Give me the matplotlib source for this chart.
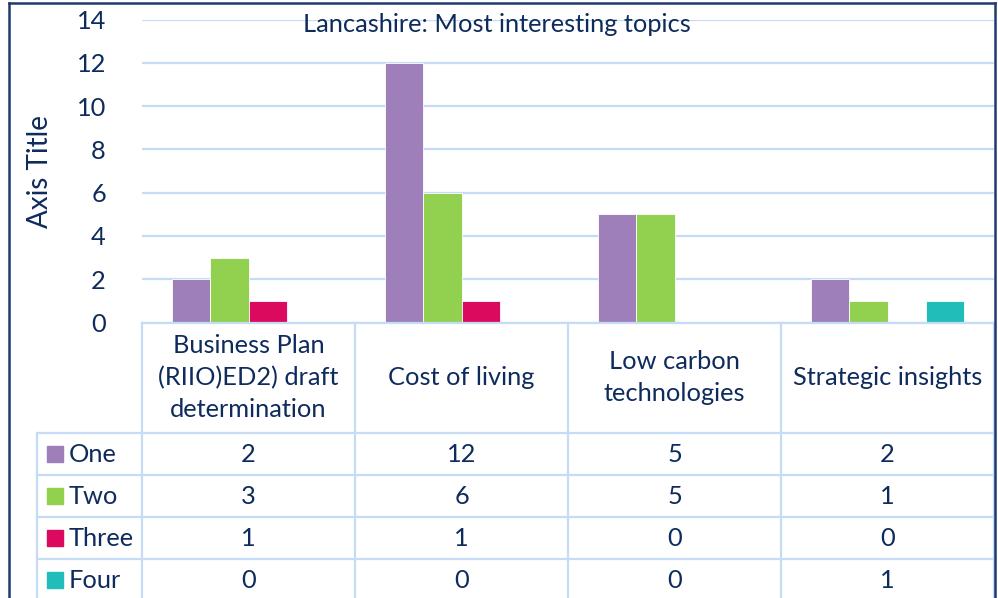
import matplotlib
matplotlib.use("Agg")
import matplotlib.pyplot as plt
import numpy as np
from matplotlib.lines import Line2D
from matplotlib.patches import Rectangle

categories = ["Business Plan\n(RIIO)ED2) draft\ndetermination", "Cost of living",
              "Low carbon\ntechnologies", "Strategic insights"]
series_names = ["One", "Two", "Three", "Four"]
one = [2, 12, 5, 2]
two = [3, 6, 5, 1]
three = [1, 1, 0, 0]
four = [0, 0, 0, 1]
series_values = [one, two, three, four]
colors = ["#9e7fb9", "#92d050", "#dc0a5f", "#20bdb9"]
yticks = [0, 2, 4, 6, 8, 10, 12, 14]
title = "Lancashire: Most interesting topics"

plt.rcParams['font.family'] = ['Lato', 'DejaVu Sans']
TXT = "#0e2b5c"
GRID = "#c6dbf6"
FS = 18.3

W, H = 998, 598
fig = plt.figure(figsize=(W / 100, H / 100), dpi=100)

def fx(px):
    return px / W

def fy(py):
    return 1 - py / H

left_px, right_px = 142, 994
top_px, bot_px = 19.5, 322.5
ax = fig.add_axes([fx(left_px), fy(bot_px), fx(right_px - left_px), (bot_px - top_px) / H])
ax.set_xlim(-0.5, 3.5)
ax.set_ylim(0, 14)

n = len(series_names)
bw = 0.18
x = np.arange(len(categories))
for i, (name, vals, c) in enumerate(zip(series_names, series_values, colors)):
    ax.bar(x + (i - (n - 1) / 2) * bw, vals, width=bw, color=c, zorder=3,
           edgecolor="white", linewidth=0.6)

ax.set_yticks(yticks)
ax.tick_params(axis='y', length=0, pad=26, labelsize=FS, labelcolor=TXT)
ax.tick_params(axis='x', length=0, labelbottom=False)
ax.grid(axis='y', color=GRID, linewidth=1.6, zorder=0)
for s in ax.spines.values():
    s.set_visible(False)
ax.set_ylabel("Axis Title", fontsize=20, color=TXT, labelpad=17)

fig.text(0.498, fy(24.5), title, ha='center', va='center', fontsize=FS, color=TXT)

# data table
unit = (bot_px - top_px) / 14.0  # pixels per y-unit
def ypx(py):
    return -(py - bot_px) / unit

header_bot = 433
row_h = 42
rows_y = [header_bot + k * row_h for k in range(5)]
leg_left = -0.5 - (left_px - 37) / ((right_px - left_px) / 4)

lk = dict(color=GRID, linewidth=1.6, clip_on=False, zorder=4)
ax.add_line(Line2D([-0.5, 3.5], [0, 0], **lk))
for ry in rows_y[:-1]:
    ax.add_line(Line2D([leg_left, 3.5], [ypx(ry), ypx(ry)], **lk))
for b in [-0.5, 0.5, 1.5, 2.5, 3.5]:
    ax.add_line(Line2D([b, b], [0, ypx(610)], **lk))
ax.add_line(Line2D([leg_left, leg_left], [ypx(header_bot), ypx(610)], **lk))

for j, cat in enumerate(categories):
    ax.text(j, ypx((bot_px + header_bot) / 2), cat, ha='center', va='center',
            fontsize=FS, color=TXT, clip_on=False, linespacing=1.45)

for i, (name, vals, c) in enumerate(zip(series_names, series_values, colors)):
    cy = ypx(rows_y[i] + row_h / 2)
    for j, v in enumerate(vals):
        ax.text(j, cy, str(v), ha='center', va='center', fontsize=FS, color=TXT, clip_on=False)
    kx0, kx1 = 47, 63
    fig.patches.append(Rectangle((fx(kx0), fy(rows_y[i] + row_h / 2 + 8)), fx(kx1 - kx0), 16 / H,
                                 transform=fig.transFigure, color=c, zorder=5))
    fig.text(fx(69), fy(rows_y[i] + row_h / 2), name, ha='left', va='center',
             fontsize=FS, color=TXT)

NAVY = "#1f3a6e"
fig.add_artist(Line2D([fx(9), fx(9)], [fy(3), 0], transform=fig.transFigure, color=NAVY, linewidth=1.8))
fig.add_artist(Line2D([fx(9), fx(995)], [fy(3), fy(3)], transform=fig.transFigure, color=NAVY, linewidth=1.8))
fig.add_artist(Line2D([fx(995), fx(995)], [fy(3), 0], transform=fig.transFigure, color=NAVY, linewidth=1.8))

fig.savefig("out.png", dpi=100, facecolor="white")
